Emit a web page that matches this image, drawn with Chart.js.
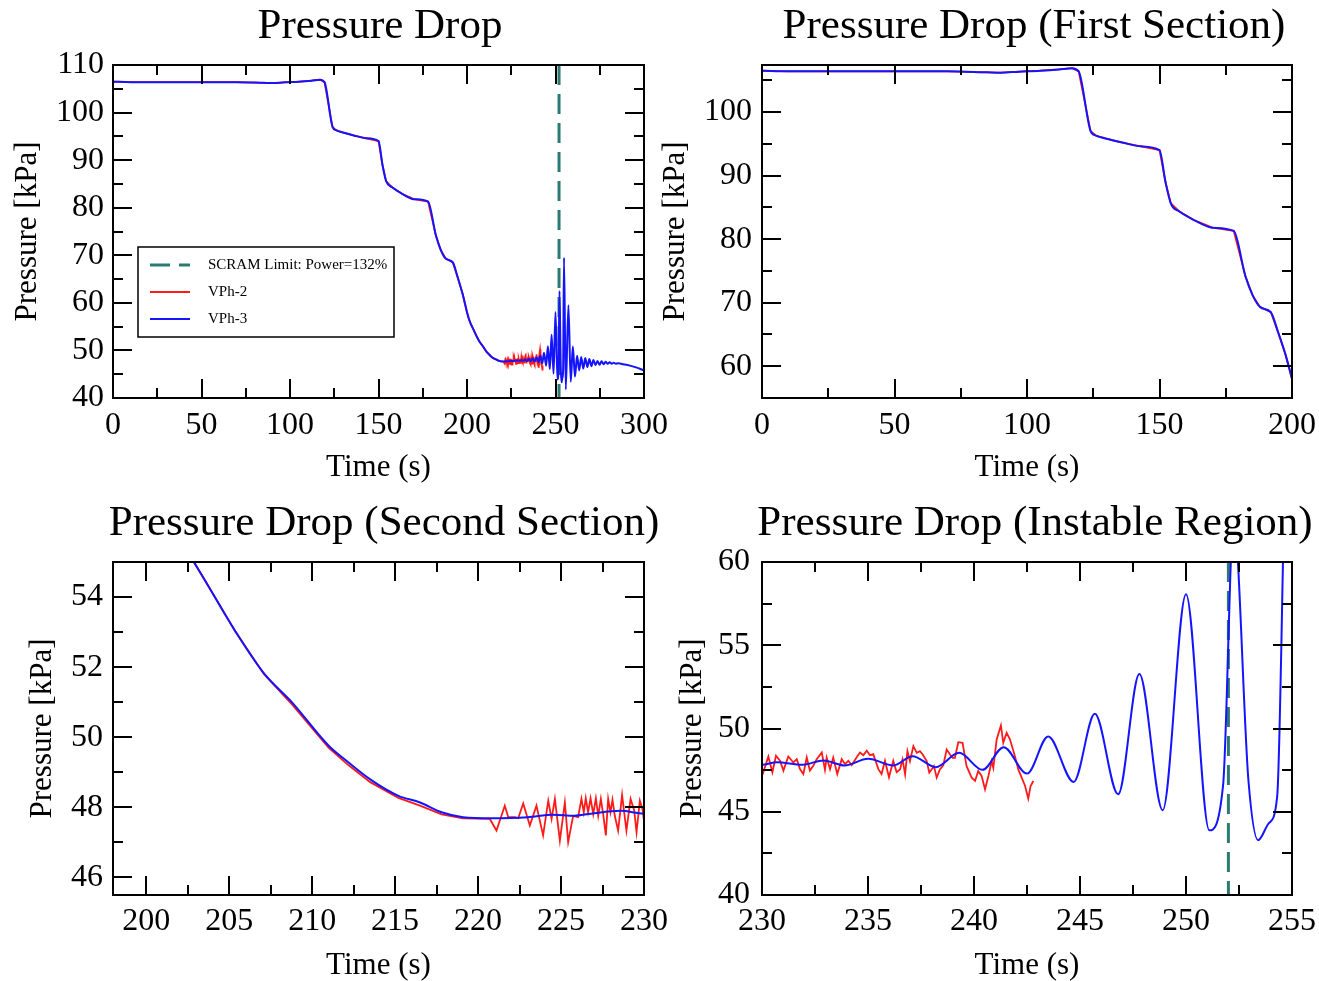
<!DOCTYPE html>
<html>
<head>
<meta charset="utf-8">
<title>Pressure Drop</title>
<script src="https://cdn.jsdelivr.net/npm/chart.js@4/dist/chart.umd.min.js"></script>
<style>
    html, body { margin: 0; padding: 0; background: #fff; overflow: hidden; }
    #figura { position: relative; width: 1319px; height: 981px; }
    #figura canvas { position: absolute; left: 0; top: 0; }
</style>
</head>
<body>
<div id="figura">
    <canvas id="panel0" width="1319" height="981"></canvas>
    <canvas id="panel1" width="1319" height="981"></canvas>
    <canvas id="panel2" width="1319" height="981"></canvas>
    <canvas id="panel3" width="1319" height="981"></canvas>
</div>
<script>
// Datos: tiempo (s) y caída de presión (kPa)
const vph3Time = [
    0, 10, 40, 70, 85, 90, 97, 105, 112, 117, 119.5,
    124, 126, 130, 136, 143, 150, 152.3, 154.3, 157.7, 163, 170, 178,
    182.4, 185.2, 188, 192, 194.8, 197.5, 199, 200, 201, 202, 203, 203.6,
    205.4, 207.1, 208.8, 211, 212.2, 213.5, 215.2, 216.5, 217.8, 219.1,
    220.8, 223, 224.5, 225.8, 226.8, 228.6,
    230, 230.7, 231.9, 232.9, 233.9, 235, 236.2, 237.1, 238.2, 239.3,
    240.4, 241.4, 242.5, 243.5, 244.7, 245.7, 246.8, 247.8, 248.9, 250,
    251.1, 251.75, 252.25, 252.95, 253.4, 253.9, 254.3, 254.8, 255.8,
    257.3, 258.6, 259.8, 261, 262.2, 263.4, 264.5, 265.7, 266.8, 268,
    269.1, 270.3, 271.4, 272.6, 273.7, 274.9, 276, 277.2, 278.3, 279.5,
    280.6, 281.8, 282.9, 284.1, 285.2, 287, 290, 295, 300
];
const vph3Pressure = [
    106.5, 106.4, 106.4, 106.4, 106.25, 106.2, 106.35, 106.5, 106.7, 106.9, 106.4,
    97.0, 96.3, 95.8, 95.2, 94.6, 94.0, 88.9, 85.6, 84.3, 83.0, 81.8, 81.3,
    74.2, 71.1, 69.3, 68.5, 65.3, 61.9, 59.6, 58.0, 56.7, 55.7, 54.9, 54.43,
    53.0, 51.82, 50.99, 49.76, 49.28, 48.8, 48.33, 48.14, 47.86, 47.72,
    47.69, 47.72, 47.79, 47.76, 47.82, 47.9,
    47.82, 47.98, 47.82, 48.08, 47.78, 48.18, 47.78, 48.34, 47.68, 48.54,
    47.52, 48.88, 47.29, 49.52, 46.79, 50.88, 46.05, 53.27, 45.09, 58.06,
    43.89, 46.6, 62.5, 46.8, 43.29, 44.3, 45.9, 69.5, 41.8,
    59.5, 43.4, 50.8, 44.5, 48.9, 45.8, 48.6, 46.2, 48.4, 46.5,
    48.2, 46.7, 48.0, 46.9, 47.8, 47.0, 47.7, 47.1, 47.6, 47.2,
    47.5, 47.2, 47.4, 47.2, 47.3, 47.2, 47.0, 46.5, 45.8
];

const vph2Time = [
    0, 10, 40, 70, 85, 90, 97, 105, 112, 117, 119.5,
    124, 126, 130, 136, 143, 150, 152.3, 154.3, 157.7, 163, 170, 178,
    182.4, 185.2, 188, 192, 194.8, 197.5, 199, 200, 201, 202, 203, 203.6,
    205.4, 207.1, 208.8, 211, 212.2, 213.5, 215.2, 216.5, 217.8, 219.1,
    220.71, 221.11, 221.61, 221.82, 222.22, 222.42, 222.72, 223.12, 223.52, 223.92,
    224.23, 224.43, 224.63, 224.93, 225.23, 225.43, 225.73, 226.03, 226.23, 226.37,
    226.49, 226.63, 226.78, 226.94, 227.1, 227.24, 227.4, 227.54, 227.7, 227.84,
    227.98, 228.1, 228.24, 228.44, 228.68, 228.94, 229.19, 229.41, 229.55, 229.75, 229.91,
    230.06, 230.3, 230.49, 230.66, 230.85, 231.01, 231.24, 231.48, 231.64, 231.79,
    231.95, 232.11, 232.26, 232.42, 232.58, 232.82, 232.97, 233.05, 233.21, 233.36,
    233.55, 233.76, 233.92, 234.07, 234.23, 234.46, 234.62, 234.78, 234.94, 235.09,
    235.25, 235.49, 235.64, 235.8, 235.99, 236.19, 236.35,
    236.51, 236.63, 236.75, 236.86, 236.98, 237.14, 237.3, 237.45, 237.58, 237.77,
    237.89, 238.0, 238.11, 238.24, 238.39, 238.55, 238.71, 238.87, 238.99, 239.1,
    239.26, 239.46, 239.65, 239.89, 240.05, 240.2, 240.36, 240.52, 240.68, 240.83,
    240.91, 241.07, 241.27, 241.38, 241.54, 241.7, 241.93, 242.09, 242.25, 242.41,
    242.56, 242.67, 242.8
];
const vph2Pressure = [
    106.5, 106.4, 106.4, 106.4, 106.25, 106.2, 106.35, 106.5, 106.7, 106.9, 106.4,
    97.0, 96.3, 95.8, 95.2, 94.6, 94.0, 88.9, 85.6, 84.3, 83.0, 81.8, 81.3,
    74.2, 71.1, 69.3, 68.5, 65.3, 61.9, 59.6, 58.0, 56.7, 55.7, 54.9, 54.43,
    53.0, 51.8, 50.93, 49.7, 49.2, 48.72, 48.27, 48.05, 47.8, 47.69,
    47.67, 47.34, 48.05, 47.72, 47.72, 47.69, 48.11, 47.48, 48.05, 47.20,
    48.19, 47.67, 48.24, 47.05, 48.14, 47.01, 47.76, 47.72, 48.24, 47.86,
    48.26, 47.86, 48.26, 47.81, 48.26, 47.76, 48.24, 47.81, 47.20, 48.24,
    47.86, 48.22, 47.76, 47.34, 48.35, 47.34, 48.24, 47.91, 47.29, 48.19, 47.95,
    47.37, 48.32, 47.37, 48.36, 48.06, 47.47, 48.32, 47.96, 48.16, 47.56,
    47.27, 48.26, 47.47, 47.76, 48.16, 48.56, 47.52, 48.26, 47.56, 48.26,
    47.27, 48.16, 47.86, 48.06, 47.80, 48.26, 48.56, 48.40, 48.66, 48.40,
    48.46, 47.56, 47.27, 48.06, 47.07, 48.06, 47.37,
    47.54, 48.14, 47.25, 48.64, 48.04, 48.94, 48.54, 48.64, 48.44, 48.04,
    47.35, 47.54, 47.74, 47.05, 47.54, 47.78, 48.74, 48.44, 48.24, 48.24,
    49.18, 49.14, 47.74, 47.05, 46.85, 47.45, 47.15, 46.35, 47.15, 48.04,
    47.64, 49.34, 50.18, 49.14, 49.74, 49.34, 48.34, 47.54, 47.05, 46.55,
    45.79, 46.55, 46.85
];

// Límite SCRAM (s)
const scramTime = 252;

// Paneles: títulos, rangos y marcas
const panelTitles = [
    'Pressure Drop',
    'Pressure Drop (First Section)',
    'Pressure Drop (Second Section)',
    'Pressure Drop (Instable Region)'
];
const xRanges = [[0, 300], [0, 200], [198, 230], [230, 255]];
const yRanges = [[40, 110], [55, 107.4], [45.5, 55], [40, 60]];
const xTickValues = [
    [0, 50, 100, 150, 200, 250, 300],
    [0, 50, 100, 150, 200],
    [200, 205, 210, 215, 220, 225, 230],
    [230, 235, 240, 245, 250, 255]
];
const yTickValues = [
    [40, 50, 60, 70, 80, 90, 100, 110],
    [60, 70, 80, 90, 100],
    [46, 48, 50, 52, 54],
    [40, 45, 50, 55, 60]
];
const legendLabels = ['SCRAM Limit: Power=132%', 'VPh-2', 'VPh-3'];

// Geometría (px en la figura)
const areas = [
    { left: 113, top: 65, right: 644, bottom: 398 },
    { left: 762, top: 65, right: 1292, bottom: 398 },
    { left: 113, top: 562, right: 644, bottom: 895 },
    { left: 762, top: 562, right: 1292, bottom: 895 }
];
const yBoxWidth = [113, 102, 113, 102];
const xBoxHeight = [92, 92, 86, 86];
const titleCenterX = [380, 1034, 384, 1035];
const titleBaseline = [38, 38, 535, 535];
const yTitleCenter = [28, 676, 43, 693];
const xTitleCenter = [468, 468, 966, 966];
const xLabelCenter = [426, 426, 922, 922];
const yLabelRight = [104, 752, 103, 750];

const FUENTE = '"Liberation Serif", "Times New Roman", serif';
const W = 1319, H = 981;

function puntos(tiempos, valores) {
    return tiempos.map((t, i) => ({ x: t, y: valores[i] }));
}

// Marcas menores: mitad de paso entre las mayores
function marcasMenores(mayores, rango) {
    const paso = mayores[1] - mayores[0];
    const res = mayores.slice(0, -1).map(v => v + paso / 2);
    res.unshift(mayores[0] - paso / 2);
    res.push(mayores[mayores.length - 1] + paso / 2);
    return res.filter(v => v > rango[0] && v < rango[1]);
}

// Plugin: marco, marcas internas en los cuatro lados y título
const marcoPlugin = {
    id: 'marco',
    afterDatasetsDraw(chart, args, opts) {
        const { ctx, chartArea: a, scales: { x, y } } = chart;
        ctx.save();
        ctx.strokeStyle = '#000';
        ctx.lineWidth = 2;
        ctx.beginPath();
        const largo = { mayor: 19, menor: 10 };
        const marcasX = (valores, l) => valores.forEach(v => {
            const px = Math.round(x.getPixelForValue(v));
            ctx.moveTo(px, a.bottom); ctx.lineTo(px, a.bottom - l);
            ctx.moveTo(px, a.top); ctx.lineTo(px, a.top + l);
        });
        const marcasY = (valores, l) => valores.forEach(v => {
            const py = Math.round(y.getPixelForValue(v));
            ctx.moveTo(a.left, py); ctx.lineTo(a.left + l, py);
            ctx.moveTo(a.right, py); ctx.lineTo(a.right - l, py);
        });
        marcasX(opts.xMayores, largo.mayor);
        marcasX(marcasMenores(opts.xMayores, opts.xRango), largo.menor);
        marcasY(opts.yMayores, largo.mayor);
        marcasY(marcasMenores(opts.yMayores, opts.yRango), largo.menor);
        ctx.stroke();
        ctx.strokeRect(a.left, a.top, a.right - a.left, a.bottom - a.top);

        ctx.fillStyle = '#000';
        ctx.font = '43px ' + FUENTE;
        ctx.textAlign = 'center';
        ctx.textBaseline = 'alphabetic';
        ctx.fillText(opts.titulo, opts.tituloX, opts.tituloY);
        ctx.restore();
    }
};

// Plugin: leyenda dentro del área (solo primer panel)
const leyendaPlugin = {
    id: 'leyenda',
    afterDraw(chart, args, opts) {
        if (!opts.display) return;
        const { ctx } = chart;
        const b = opts.caja;
        ctx.save();
        ctx.fillStyle = '#fff';
        ctx.fillRect(b.x, b.y, b.w, b.h);
        ctx.strokeStyle = '#000';
        ctx.lineWidth = 1.5;
        ctx.strokeRect(b.x, b.y, b.w, b.h);
        ctx.font = '15px ' + FUENTE;
        ctx.textBaseline = 'middle';
        ctx.textAlign = 'left';
        chart.data.datasets.forEach((ds, i) => {
            const fy = b.y + 18 + i * 27;
            ctx.strokeStyle = ds.borderColor;
            ctx.lineWidth = ds.borderWidth;
            ctx.setLineDash(ds.borderDash || []);
            ctx.beginPath();
            ctx.moveTo(b.x + 12, fy);
            ctx.lineTo(b.x + 52, fy);
            ctx.stroke();
            ctx.setLineDash([]);
            ctx.fillStyle = '#000';
            ctx.fillText(ds.label, b.x + 70, fy);
        });
        ctx.restore();
    }
};

function crearPanel(i) {
    const area = areas[i];
    const yRango = yRanges[i];
    const ctx = document.getElementById('panel' + i).getContext('2d');
    const tickFont = { family: FUENTE, size: 32 };
    const titleFont = { family: FUENTE, size: 31, lineHeight: 1 };

    new Chart(ctx, {
        type: 'line',
        data: {
            datasets: [
                {
                    label: legendLabels[0],
                    data: puntos([scramTime, scramTime], [yRango[1], yRango[0]]),
                    borderColor: '#2c7b73',
                    borderWidth: 3,
                    borderDash: [20, 9],
                    pointRadius: 0,
                    order: 2
                },
                {
                    label: legendLabels[1],
                    data: puntos(vph2Time, vph2Pressure),
                    borderColor: '#ff1a1a',
                    borderWidth: 1.8,
                    pointRadius: 0,
                    tension: 0,
                    order: 1
                },
                {
                    label: legendLabels[2],
                    data: puntos(vph3Time, vph3Pressure),
                    borderColor: '#1414ff',
                    borderWidth: 2,
                    pointRadius: 0,
                    cubicInterpolationMode: 'monotone',
                    order: 0
                }
            ]
        },
        options: {
            responsive: false,
            animation: false,
            devicePixelRatio: 1,
            events: [],
            layout: {
                padding: {
                    left: area.left - yBoxWidth[i],
                    top: area.top,
                    right: W - area.right,
                    bottom: H - area.bottom - xBoxHeight[i]
                }
            },
            scales: {
                x: {
                    type: 'linear',
                    min: xRanges[i][0],
                    max: xRanges[i][1],
                    grid: { display: false, drawTicks: false },
                    border: { display: false },
                    afterBuildTicks: s => { s.ticks = xTickValues[i].map(v => ({ value: v })); },
                    afterFit: s => {
                        s.height = xBoxHeight[i];
                        s.paddingLeft = 0;
                        s.paddingRight = 0;
                    },
                    ticks: {
                        font: tickFont,
                        color: '#000',
                        autoSkip: false,
                        maxRotation: 0,
                        padding: xLabelCenter[i] - area.bottom - tickFont.size * 0.6
                    },
                    title: {
                        display: true,
                        text: 'Time (s)',
                        font: titleFont,
                        color: '#000',
                        padding: { top: 0, bottom: area.bottom + xBoxHeight[i] - xTitleCenter[i] - titleFont.size / 2 }
                    }
                },
                y: {
                    type: 'linear',
                    min: yRango[0],
                    max: yRango[1],
                    grid: { display: false, drawTicks: false },
                    border: { display: false },
                    afterBuildTicks: s => { s.ticks = yTickValues[i].map(v => ({ value: v })); },
                    afterFit: s => {
                        s.width = yBoxWidth[i];
                        s.paddingTop = 0;
                        s.paddingBottom = 0;
                    },
                    ticks: {
                        font: tickFont,
                        color: '#000',
                        autoSkip: false,
                        padding: area.left - yLabelRight[i]
                    },
                    title: {
                        display: true,
                        text: 'Pressure [kPa]',
                        font: titleFont,
                        color: '#000',
                        padding: { top: yTitleCenter[i] - (area.left - yBoxWidth[i]) - titleFont.size / 2, bottom: 0 }
                    }
                }
            },
            plugins: {
                legend: { display: false },
                tooltip: { enabled: false },
                marco: {
                    titulo: panelTitles[i],
                    tituloX: titleCenterX[i],
                    tituloY: titleBaseline[i],
                    xMayores: xTickValues[i],
                    yMayores: yTickValues[i],
                    xRango: xRanges[i],
                    yRango: yRango
                },
                leyenda: {
                    display: i === 0,
                    caja: { x: 138, y: 247, w: 256, h: 90 }
                }
            }
        },
        plugins: [marcoPlugin, leyendaPlugin]
    });
}

document.addEventListener('DOMContentLoaded', () => {
    [0, 1, 2, 3].forEach(crearPanel);
});
</script>
</body>
</html>
